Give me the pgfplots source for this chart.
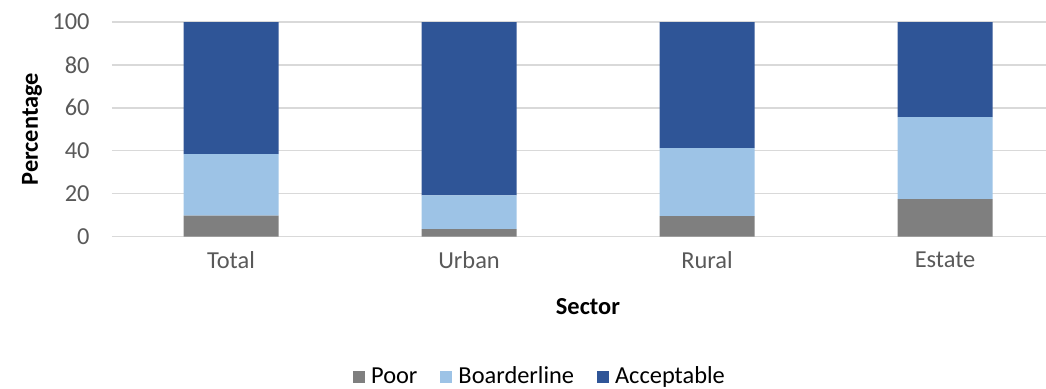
\documentclass[border=0pt]{standalone}
\usepackage{fontspec}
\setmainfont{Carlito}
\usepackage{pgfplots}
\pgfplotsset{compat=1.18}
\definecolor{poorc}{HTML}{7F7F7F}
\definecolor{borderc}{HTML}{9DC3E6}
\definecolor{accc}{HTML}{2F5597}
\definecolor{gridc}{HTML}{D9D9D9}
\definecolor{tickc}{HTML}{595959}
\begin{document}
\fontsize{12.2}{14.6}\selectfont
\begin{tikzpicture}
\useasboundingbox (-56pt,-75.75pt) rectangle (467pt,118.25pt);
\begin{axis}[
  at={(0pt,0pt)}, anchor=south west,
  scale only axis, width=467pt, height=107.25pt,
  xmin=-0.5, xmax=3.424, ymin=0, ymax=100,
  ybar stacked, bar width=47.5pt,
  axis line style={draw=none},
  major tick length=0pt,
  ytick={0,20,40,60,80,100},
  ymajorgrids, grid style={color=gridc, line width=0.75pt},
  xtick={0,1,2,3}, xticklabels={Total,Urban,Rural,Estate},
  /pgf/number format/assume math mode=true,
  tick label style={color=tickc, font=\fontsize{12.2}{14.6}\selectfont},
  yticklabel style={anchor=east, inner sep=0pt, xshift=-11pt},
  xticklabel style={anchor=center, inner sep=0pt, yshift=-11.75pt},
  every axis y label/.style={at={(axis description cs:-0.0857,0.5)}, rotate=90, anchor=center, font=\bfseries\fontsize{12.2}{14.6}\selectfont},
  every axis x label/.style={at={(axis description cs:0.5096,-0.3287)}, anchor=center, font=\bfseries\fontsize{12.2}{14.6}\selectfont},
  xlabel={Sector}, ylabel={Percentage},
  legend style={at={(axis description cs:0.4593,-0.655)}, anchor=center, draw=none, fill=none,
    legend columns=3, font=\fontsize{12.2}{14.6}\selectfont,
    /tikz/every odd column/.append style={column sep=1pt},
    /tikz/every even column/.append style={column sep=9.5pt}},
  legend image code/.code={\path[#1] (0pt,-3pt) rectangle (6pt,3pt);},
]
\addplot[fill=poorc, draw=none] coordinates {(0,9.7) (1,3.5) (2,9.5) (3,17.4)};
\addplot[fill=borderc, draw=none] coordinates {(0,28.7) (1,15.7) (2,31.7) (3,38.3)};
\addplot[fill=accc, draw=none] coordinates {(0,61.6) (1,80.8) (2,58.8) (3,44.3)};
\legend{Poor,Boarderline,Acceptable}
\end{axis}
\end{tikzpicture}
\end{document}
